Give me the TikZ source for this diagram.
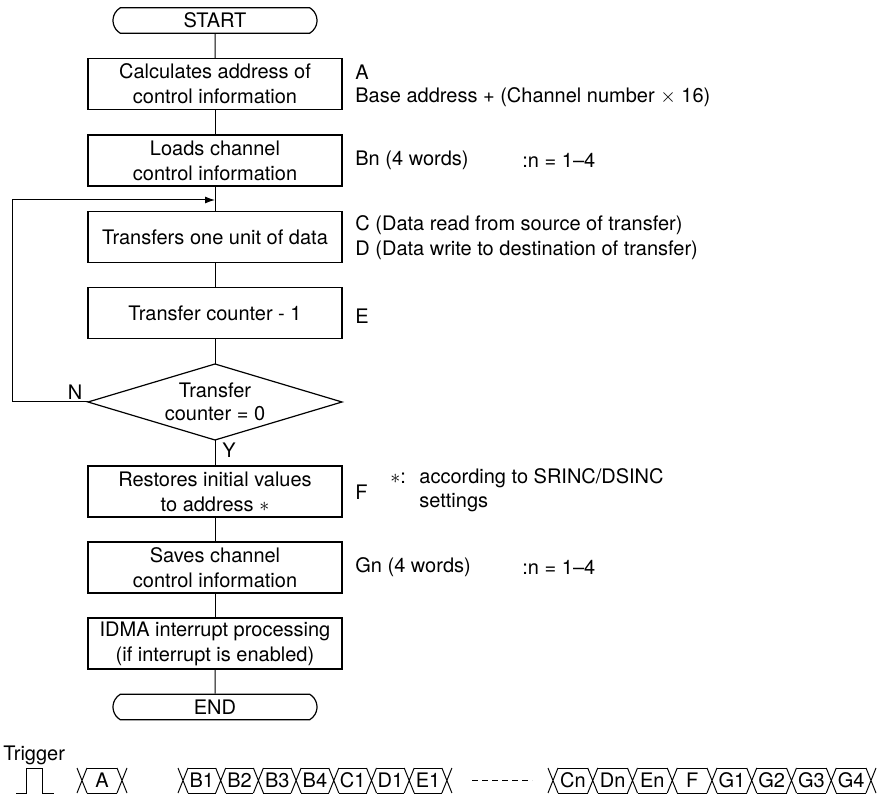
\documentclass[tikz,border=0pt]{standalone}
\usepackage{fontspec}
\setmainfont{TeX Gyre Heros}
\usetikzlibrary{shapes.misc,arrows.meta}
\begin{document}
\begin{tikzpicture}[x=0.5pt,y=-0.5pt,
  every node/.style={font=\fontsize{10pt}{12.5pt}\selectfont, inner sep=0pt},
  box/.style={draw, line width=0.6pt, minimum width=127pt, minimum height=25.5pt, align=center},
  term/.style={draw, line width=0.6pt, rounded rectangle, rounded rectangle arc length=120, minimum width=102pt, minimum height=12.8pt},
  conn/.style={line width=0.5pt},
  note/.style={anchor=west, align=left},
  wave/.style={line width=0.5pt}
]
\useasboundingbox (0,0) rectangle (879,796);

% flowchart
\node[term] (start) at (215,20.5) {START};
\node[box] (b1) at (215,84) {Calculates address of\\control information};
\node[box] (b2) at (215,160.5) {Loads channel\\control information};
\node[box] (b3) at (215,237) {Transfers one unit of data};
\node[box] (b4) at (215,313) {Transfer counter - 1};
\coordinate (dT) at (215,364);
\coordinate (dR) at (342,402);
\coordinate (dB) at (215,440);
\coordinate (dL) at (88,402);
\draw[line width=0.6pt] (dT) -- (dR) -- (dB) -- (dL) -- cycle;
\node[align=center, font=\fontsize{10pt}{11.5pt}\selectfont] (dtext) at (215,402) {Transfer\\counter = 0};
\node[box] (b5) at (215,491.5) {Restores initial values\\to address $\ast$};
\node[box] (b6) at (215,567.5) {Saves channel\\control information};
\node[box] (b7) at (215,643.5) {IDMA interrupt processing\\(if interrupt is enabled)};
\node[term] (end) at (215,707) {END};

\draw[conn] (start) -- (b1);
\draw[conn] (b1) -- (b2);
\draw[conn] (b2) -- (b3);
\draw[conn] (b3) -- (b4);
\draw[conn] (b4) -- (dT);
\draw[conn] (dB) -- (b5);
\draw[conn] (b5) -- (b6);
\draw[conn] (b6) -- (b7);
\draw[conn] (b7) -- (end);

\coordinate (lp1) at (12,402);
\coordinate (lp2) at (12,200);
\coordinate (lp3) at (215,200);
\draw[conn,-{Latex[length=5pt,width=3.5pt]}] (dL) -- (lp1) -- (lp2) -- (lp3);

\node (lN) at (75,392) {N};
\node (lY) at (229,450) {Y};

% notes
\node[note] (nA) at (355,72) {A};
\node[note] (nA2) at (355,97) {Base address + (Channel number $\times$ 16)};
\node[note] (nB) at (355,160) {Bn (4 words)};
\node[note] (nB2) at (522,160) {:n = 1--4};
\node[note] (nC) at (355,225) {C (Data read from source of transfer)};
\node[note] (nD) at (355,250) {D (Data write to destination of transfer)};
\node[note] (nE) at (355,316) {E};
\node[note] (nF) at (355,492) {F};
\node[note] (nS) at (390,478) {$\ast$:};
\node[note] (nS2) at (419,478) {according to SRINC/DSINC};
\node[note] (nS3) at (419,503) {settings};
\node[note] (nG) at (355,567) {Gn (4 words)};
\node[note] (nG2) at (522,567) {:n = 1--4};

% timing
\node[note] (trig) at (3,755) {Trigger};
\draw[wave] (16,793) -- (26,793) -- (26,768) -- (42,768) -- (42,793) -- (54,793);

% A cell
\draw[wave] (87,768) -- (117,768) (87,793) -- (117,793);
\foreach \xc in {82,122} {
  \draw[wave] (\xc-5,768) -- (\xc+5,793) (\xc-5,793) -- (\xc+5,768);
}
\node (tA) at (102,780.5) {A};

% B..E1 series
\foreach \lab [count=\i from 0] in {B1,B2,B3,B4,C1,D1,E1} {
  \pgfmathsetmacro\xa{183+37.7*\i}
  \pgfmathsetmacro\xb{183+37.7*(\i+1)}
  \draw[wave] (\xa+5,768) -- (\xb-5,768) (\xa+5,793) -- (\xb-5,793);
  \node (t\lab) at ({(\xa+\xb)/2},780.5) {\lab};
}
\foreach \k in {0,...,7} {
  \pgfmathsetmacro\xc{183+37.7*\k}
  \draw[wave] (\xc-5,768) -- (\xc+5,793) (\xc-5,793) -- (\xc+5,768);
}

\draw[wave, dash pattern=on 3pt off 2pt] (472,780.5) -- (532,780.5);

% Cn..G4 series
\foreach \lab [count=\i from 0] in {Cn,Dn,En,F,G1,G2,G3,G4} {
  \pgfmathsetmacro\xa{553+39.75*\i}
  \pgfmathsetmacro\xb{553+39.75*(\i+1)}
  \draw[wave] (\xa+5,768) -- (\xb-5,768) (\xa+5,793) -- (\xb-5,793);
  \node (t\lab) at ({(\xa+\xb)/2},780.5) {\lab};
}
\foreach \k in {0,...,8} {
  \pgfmathsetmacro\xc{553+39.75*\k}
  \draw[wave] (\xc-5,768) -- (\xc+5,793) (\xc-5,793) -- (\xc+5,768);
}
\end{tikzpicture}
\end{document}
